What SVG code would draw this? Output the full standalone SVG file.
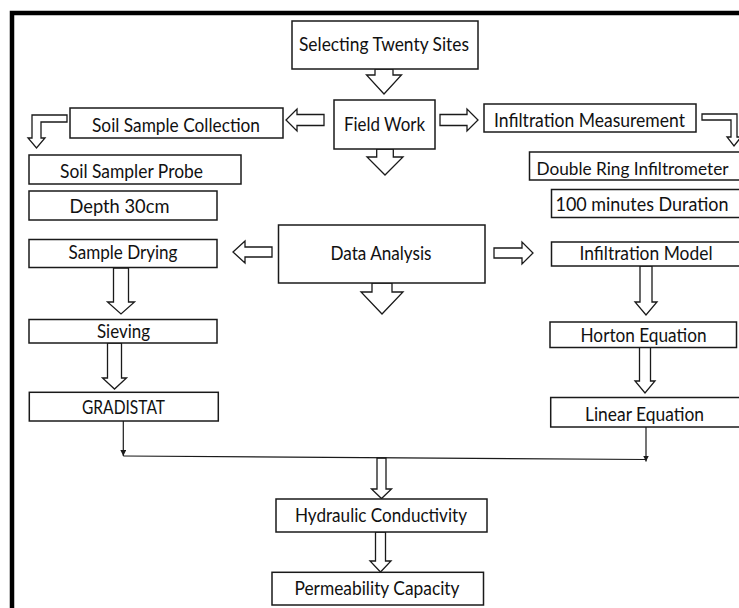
<svg xmlns="http://www.w3.org/2000/svg" width="739" height="608" viewBox="0 0 739 608">
<style>
.box{fill:#fff;stroke:#1a1a1a;stroke-width:1.5}
.blk{fill:#fff;stroke:#1a1a1a;stroke-width:1.3;stroke-linejoin:miter}
.t{font-family:Lato,"Open Sans","Liberation Sans",sans-serif;font-size:18.5px;fill:#111;text-anchor:middle}
.ln{fill:none;stroke:#1a1a1a;stroke-width:1.2}
</style>
<defs>
<marker id="ah" viewBox="0 0 10 10" refX="10" refY="5" markerWidth="6" markerHeight="6" markerUnits="userSpaceOnUse" orient="auto">
<path d="M0,0 L10,5 L0,10 z" fill="#1a1a1a"/>
</marker>
</defs>
<rect width="739" height="608" fill="#fff"/>
<g id="frame">
<path d="M12,608 V13 H739" fill="none" stroke="#000" stroke-width="4.5"/>
</g>

<g id="connectors">
<polygon class="blk" points="375,69 393,69 393,75 401.5,75 384,94 366.5,75 375,75"/>
<polygon class="blk" points="376.7,149 393.3,149 393.3,157 403,157 385,175 367,157 376.7,157"/>
<polygon class="blk" points="324,114.5 324,125.5 297,125.5 297,131 286,120 297,109 297,114.5"/>
<polygon class="blk" points="440,114.5 440,125.5 467,125.5 467,131 478,120 467,109 467,114.5"/>
<polygon class="blk" points="67,115 32,115 32,138 28,138 36.5,148 45,138 41,138 41,122 67,122"/>
<polygon class="blk" points="702,114 737,114 737,137 741,137 734,146 727,137 731,137 731,120 702,120"/>
<polygon class="blk" points="113.5,268 128.5,268 128.5,302 134.5,302 121,314 107.5,302 113.5,302"/>
<polygon class="blk" points="107.5,343 121.5,343 121.5,378 126.5,378 114.5,389 102.5,378 107.5,378"/>
<polygon class="blk" points="272,247 272,257 245,257 245,263 233,252 245,241 245,247"/>
<polygon class="blk" points="372,283 392,283 392,292 403,292 382,314 361,292 372,292"/>
<polygon class="blk" points="494,248 494,258 522,258 522,264 533,253 522,242 522,248"/>
<polygon class="blk" points="640,266 652,266 652,302 657,302 646,315 635,302 640,302"/>
<polygon class="blk" points="639.5,347 650.5,347 650.5,381 655,381 645,393 635,381 639.5,381"/>
<polygon class="blk" points="377,458 386,458 386,489 391.5,489 381.5,498.5 371.5,489 377,489"/>
<polygon class="blk" points="375.5,532 385.5,532 385.5,561 391,561 380.5,572 370,561 375.5,561"/>
<line class="ln" x1="123.3" y1="421" x2="123.3" y2="456" marker-end="url(#ah)"/>
<line class="ln" x1="646" y1="427" x2="646" y2="461.5" marker-end="url(#ah)"/>
<line class="ln" x1="123.3" y1="456" x2="646" y2="459.5"/>
</g>

<g id="selecting">
<rect class="box" x="292" y="21" width="186" height="48"/>
<text class="t" x="384" y="50.5" textLength="170" lengthAdjust="spacingAndGlyphs">Selecting Twenty Sites</text>
</g>
<g id="field-work">
<rect class="box" x="334" y="100" width="101" height="49"/>
<text class="t" x="384.5" y="130.5" textLength="81" lengthAdjust="spacingAndGlyphs">Field Work</text>
</g>
<g id="soil-sample-collection">
<rect class="box" x="70" y="108" width="213" height="30"/>
<text class="t" x="176" y="131.5" textLength="168" lengthAdjust="spacingAndGlyphs">Soil Sample Collection</text>
</g>
<g id="infiltration-measurement">
<rect class="box" x="484" y="104" width="212" height="28"/>
<text class="t" x="589.5" y="126.5" textLength="191" lengthAdjust="spacingAndGlyphs">Infiltration Measurement</text>
</g>
<g id="soil-sampler-probe">
<rect class="box" x="29" y="155" width="212" height="29"/>
<text class="t" x="131.5" y="178" textLength="143" lengthAdjust="spacingAndGlyphs">Soil Sampler Probe</text>
</g>
<g id="double-ring">
<rect class="box" x="529.5" y="152" width="211" height="28"/>
<text class="t" x="632.5" y="175" style="font-size:17px" textLength="192" lengthAdjust="spacingAndGlyphs">Double Ring Infiltrometer</text>
</g>
<g id="duration">
<rect class="box" x="551.5" y="189.5" width="189" height="28"/>
<text class="t" x="642" y="210.5" textLength="173" lengthAdjust="spacingAndGlyphs">100 minutes Duration</text>
</g>
<g id="depth">
<rect class="box" x="29" y="191" width="188" height="29"/>
<text class="t" x="119.5" y="213" textLength="100" lengthAdjust="spacingAndGlyphs">Depth 30cm</text>
</g>
<g id="sample-drying">
<rect class="box" x="29" y="239.5" width="188" height="28"/>
<text class="t" x="123" y="258.5" textLength="109" lengthAdjust="spacingAndGlyphs">Sample Drying</text>
</g>
<g id="data-analysis">
<rect class="box" x="278.5" y="225" width="206.5" height="58"/>
<text class="t" x="381" y="259.5" textLength="101" lengthAdjust="spacingAndGlyphs">Data Analysis</text>
</g>
<g id="infiltration-model">
<rect class="box" x="551.5" y="242" width="189" height="24"/>
<text class="t" x="646" y="260" textLength="133" lengthAdjust="spacingAndGlyphs">Infiltration Model</text>
</g>
<g id="sieving">
<rect class="box" x="29" y="319.5" width="188" height="23.5"/>
<text class="t" x="123.5" y="338" textLength="53" lengthAdjust="spacingAndGlyphs">Sieving</text>
</g>
<g id="horton">
<rect class="box" x="550" y="322" width="186.5" height="25.5"/>
<text class="t" x="643.5" y="341.5" textLength="126" lengthAdjust="spacingAndGlyphs">Horton Equation</text>
</g>
<g id="gradistat">
<rect class="box" x="29.3" y="392.3" width="189" height="28.7"/>
<text class="t" x="123.5" y="414" textLength="83" lengthAdjust="spacingAndGlyphs">GRADISTAT</text>
</g>
<g id="linear">
<rect class="box" x="550.7" y="397.5" width="190" height="29.5"/>
<text class="t" x="644.5" y="420.5" textLength="119" lengthAdjust="spacingAndGlyphs">Linear Equation</text>
</g>
<g id="hydraulic">
<rect class="box" x="276" y="499" width="211" height="33"/>
<text class="t" x="381" y="521.5" textLength="172" lengthAdjust="spacingAndGlyphs">Hydraulic Conductivity</text>
</g>
<g id="permeability">
<rect class="box" x="272" y="572.3" width="211.5" height="32.7"/>
<text class="t" x="377" y="594.5" textLength="165" lengthAdjust="spacingAndGlyphs">Permeability Capacity</text>
</g>
</svg>
